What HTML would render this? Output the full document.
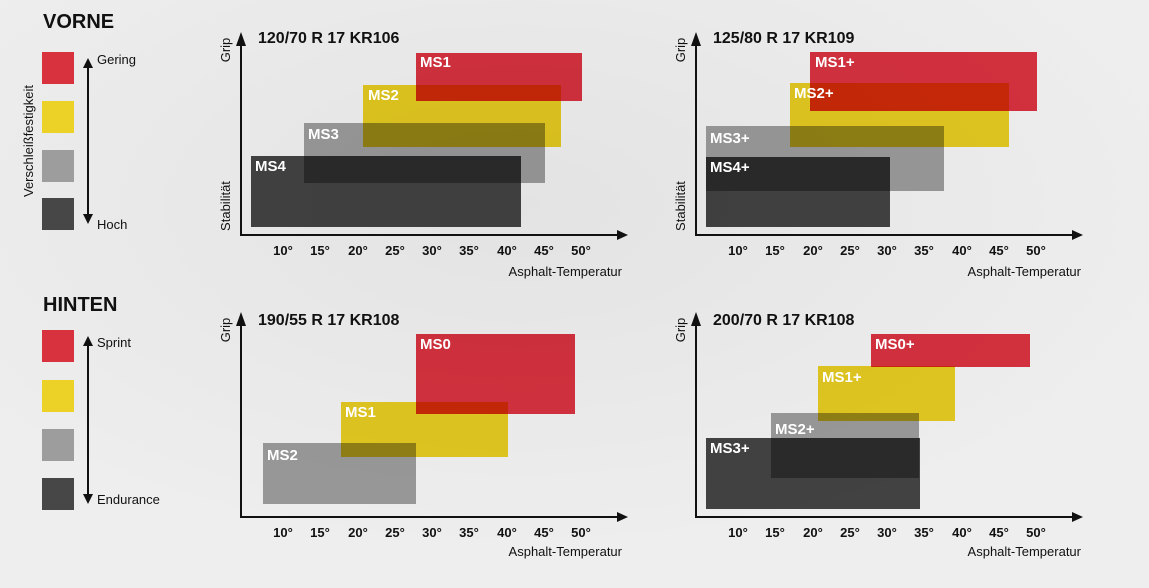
<!DOCTYPE html>
<html><head><meta charset="utf-8"><style>
html,body{margin:0;padding:0;background:#ebebeb;}
svg{display:block;font-family:"Liberation Sans",sans-serif;}
.t{font-weight:bold;font-size:16px;fill:#111;}
.h{font-weight:bold;font-size:20px;fill:#111;}
.k{font-size:13px;fill:#111;}
.l{font-weight:bold;font-size:15px;fill:#fff;}
.r{mix-blend-mode:multiply;}
</style></head><body>
<svg width="1149" height="588" viewBox="0 0 1149 588">
<defs>
<radialGradient id="bg" cx="45%" cy="35%" r="60%"><stop offset="0" stop-color="#e3e3e3"/><stop offset="1" stop-color="#eeeeee"/></radialGradient>
<marker id="ar" markerWidth="10" markerHeight="10" refX="8" refY="5" orient="auto" markerUnits="userSpaceOnUse"><path d="M0,0 L10,5 L0,10 z" fill="#111"/></marker>
</defs>
<rect width="1149" height="588" fill="url(#bg)"/>

<text x="43" y="28" class="h">VORNE</text>
<rect x="42" y="52" width="32" height="32" fill="#d9323f"/>
<rect x="42" y="101" width="32" height="32" fill="#ecd126"/>
<rect x="42" y="150" width="32" height="32" fill="#9d9d9d"/>
<rect x="42" y="198" width="32" height="32" fill="#474747"/>
<line x1="88" y1="222" x2="88" y2="60" stroke="#111" stroke-width="2" marker-end="url(#ar)"/>
<line x1="88" y1="60" x2="88" y2="222" stroke="#111" stroke-width="2" marker-end="url(#ar)"/>
<text x="97" y="64" class="k">Gering</text>
<text x="97" y="229" class="k">Hoch</text>
<text transform="translate(33,141) rotate(-90)" class="k" text-anchor="middle" font-size="12">Verschleißfestigkeit</text>

<text x="43" y="311" class="h">HINTEN</text>
<rect x="42" y="330" width="32" height="32" fill="#d9323f"/>
<rect x="42" y="380" width="32" height="32" fill="#ecd126"/>
<rect x="42" y="429" width="32" height="32" fill="#9d9d9d"/>
<rect x="42" y="478" width="32" height="32" fill="#474747"/>
<line x1="88" y1="502" x2="88" y2="338" stroke="#111" stroke-width="2" marker-end="url(#ar)"/>
<line x1="88" y1="338" x2="88" y2="502" stroke="#111" stroke-width="2" marker-end="url(#ar)"/>
<text x="97" y="347" class="k">Sprint</text>
<text x="97" y="504" class="k">Endurance</text>

<g>
<rect class="r" x="251" y="156" width="270" height="71" fill="#464646"/>
<rect class="r" x="304" y="123" width="241" height="60" fill="#a3a3a3"/>
<rect class="r" x="363" y="85" width="198" height="62" fill="#f0d422"/>
<rect class="r" x="416" y="53" width="166" height="48" fill="#e23442"/>
<text x="420" y="67" class="l">MS1</text>
<text x="368" y="100" class="l">MS2</text>
<text x="308" y="139" class="l">MS3</text>
<text x="255" y="171" class="l">MS4</text>
</g>
<g>
<rect class="r" x="706" y="157" width="184" height="70" fill="#464646"/>
<rect class="r" x="706" y="126" width="238" height="65" fill="#a3a3a3"/>
<rect class="r" x="790" y="83" width="219" height="64" fill="#f0d422"/>
<rect class="r" x="810" y="52" width="227" height="59" fill="#e23442"/>
<text x="815" y="67" class="l">MS1+</text>
<text x="794" y="98" class="l">MS2+</text>
<text x="710" y="143" class="l">MS3+</text>
<text x="710" y="172" class="l">MS4+</text>
</g>
<g>
<rect class="r" x="263" y="443" width="153" height="61" fill="#a3a3a3"/>
<rect class="r" x="341" y="402" width="167" height="55" fill="#f0d422"/>
<rect class="r" x="416" y="334" width="159" height="80" fill="#e23442"/>
<text x="420" y="349" class="l">MS0</text>
<text x="345" y="417" class="l">MS1</text>
<text x="267" y="460" class="l">MS2</text>
</g>
<g>
<rect class="r" x="706" y="438" width="214" height="71" fill="#464646"/>
<rect class="r" x="771" y="413" width="148" height="65" fill="#a3a3a3"/>
<rect class="r" x="818" y="366" width="137" height="55" fill="#f0d422"/>
<rect class="r" x="871" y="334" width="159" height="33" fill="#e23442"/>
<text x="875" y="349" class="l">MS0+</text>
<text x="822" y="382" class="l">MS1+</text>
<text x="775" y="434" class="l">MS2+</text>
<text x="710" y="453" class="l">MS3+</text>
</g>

<g stroke="#111" stroke-width="2" fill="none">
<polyline points="241,46 241,235 617,235"/>
<polyline points="696,46 696,235 1072,235"/>
<polyline points="241,326 241,517 617,517"/>
<polyline points="696,326 696,517 1072,517"/>
</g>
<g fill="#111">
<path d="M236,46 L241,32 L246,46z"/><path d="M617,230 L628,235 L617,240z"/>
<path d="M691,46 L696,32 L701,46z"/><path d="M1072,230 L1083,235 L1072,240z"/>
<path d="M236,326 L241,312 L246,326z"/><path d="M617,512 L628,517 L617,522z"/>
<path d="M691,326 L696,312 L701,326z"/><path d="M1072,512 L1083,517 L1072,522z"/>
</g>

<text x="258" y="43" class="t">120/70 R 17 KR106</text>
<text x="713" y="43" class="t">125/80 R 17 KR109</text>
<text x="258" y="325" class="t">190/55 R 17 KR108</text>
<text x="713" y="325" class="t">200/70 R 17 KR108</text>

<g class="k" text-anchor="middle" font-size="12">
<text transform="translate(230,50) rotate(-90)">Grip</text>
<text transform="translate(230,206) rotate(-90)">Stabilität</text>
<text transform="translate(685,50) rotate(-90)">Grip</text>
<text transform="translate(685,206) rotate(-90)">Stabilität</text>
<text transform="translate(230,330) rotate(-90)">Grip</text>
<text transform="translate(685,330) rotate(-90)">Grip</text>
</g>

<g class="k" font-weight="bold" font-size="13" text-anchor="middle" fill="#222">
<text x="283" y="255">10°</text><text x="320" y="255">15°</text><text x="358" y="255">20°</text><text x="395" y="255">25°</text><text x="432" y="255">30°</text><text x="469" y="255">35°</text><text x="507" y="255">40°</text><text x="544" y="255">45°</text><text x="581" y="255">50°</text>
<text x="738" y="255">10°</text><text x="775" y="255">15°</text><text x="813" y="255">20°</text><text x="850" y="255">25°</text><text x="887" y="255">30°</text><text x="924" y="255">35°</text><text x="962" y="255">40°</text><text x="999" y="255">45°</text><text x="1036" y="255">50°</text>
<text x="283" y="537">10°</text><text x="320" y="537">15°</text><text x="358" y="537">20°</text><text x="395" y="537">25°</text><text x="432" y="537">30°</text><text x="469" y="537">35°</text><text x="507" y="537">40°</text><text x="544" y="537">45°</text><text x="581" y="537">50°</text>
<text x="738" y="537">10°</text><text x="775" y="537">15°</text><text x="813" y="537">20°</text><text x="850" y="537">25°</text><text x="887" y="537">30°</text><text x="924" y="537">35°</text><text x="962" y="537">40°</text><text x="999" y="537">45°</text><text x="1036" y="537">50°</text>
</g>
<g class="k" text-anchor="end" font-size="13" fill="#222">
<text x="622" y="276">Asphalt-Temperatur</text>
<text x="1081" y="276">Asphalt-Temperatur</text>
<text x="622" y="556">Asphalt-Temperatur</text>
<text x="1081" y="556">Asphalt-Temperatur</text>
</g>
</svg>
</body></html>
